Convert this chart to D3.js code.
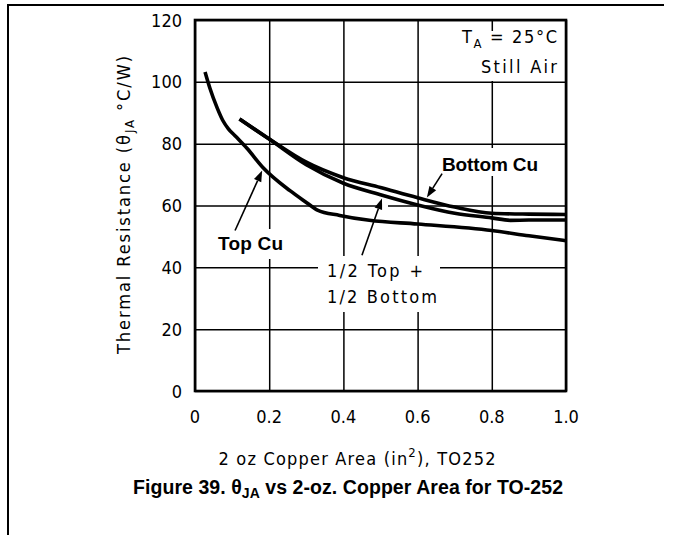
<!DOCTYPE html>
<html><head><meta charset="utf-8">
<script src="https://cdn.jsdelivr.net/npm/d3@7"></script>
<style>body{margin:0;background:#fff}</style>
</head><body><svg id="c" width="673" height="535"></svg>
<script>
// ---- data ----
const xTicks = [0, 0.2, 0.4, 0.6, 0.8, 1.0];
const xTickLabels = ["0", "0.2", "0.4", "0.6", "0.8", "1.0"];
const yTicks = [0, 20, 40, 60, 80, 100, 120];
const yTickLabels = ["0", "20", "40", "60", "80", "100", "120"];

const topCuX = [0.027, 0.04, 0.06, 0.075, 0.09, 0.11, 0.14, 0.183, 0.256, 0.30, 0.33, 0.39, 0.47, 0.60, 0.80, 0.90, 1.0];
const topCuY = [103.2, 98, 91.5, 87.5, 84.8, 82.3, 78.5, 72.3, 64.8, 61, 58.5, 56.8, 55.2, 54, 51.9, 50.2, 48.6];

const bottomCuX = [0.12, 0.2, 0.3, 0.4, 0.5, 0.6, 0.7, 0.8, 0.9, 1.0];
const bottomCuY = [88, 81.5, 74, 69, 65.8, 62.5, 59.5, 57.5, 57.2, 57.1];

const halfX = [0.12, 0.2, 0.3, 0.4, 0.5, 0.6, 0.7, 0.8, 0.85, 0.9, 1.0];
const halfY = [88, 81.5, 73.2, 67.2, 63.5, 60.2, 57.5, 56, 55.2, 55.3, 55.3];

// annotation arrows: [tailX, tailY, tipX, tipY] in data units
const arrowTopCu = [0.108, 51.9, 0.181, 71.3];
const arrowHalf = [0.45, 43.9, 0.504, 62.3];
const arrowBottom = [0.666, 70.3, 0.625, 62.6];

// ---- layout ----
const svg = d3.select("#c");
const L = 195, R = 566, T = 20, B = 391;
const x = d3.scaleLinear().domain([0, 1]).range([L, R]);
const y = d3.scaleLinear().domain([0, 120]).range([B, T]);
const thin = "'DejaVu Sans Condensed','DejaVu Sans',sans-serif";
const bold = "'Liberation Sans',Arial,sans-serif";

// page frame
svg.append("path").attr("d", "M8,535V5H664").attr("fill", "none").attr("stroke", "#000").attr("stroke-width", 2);

// gridlines
const grid = svg.append("g");
grid.append("g").attr("transform", `translate(0,${B})`)
  .call(d3.axisBottom(x).tickValues(xTicks).tickSize(-(B - T)).tickFormat(""))
  .call(g => g.select(".domain").remove())
  .call(g => g.selectAll("line").attr("stroke", "#000").attr("stroke-width", 1.5));
grid.append("g").attr("transform", `translate(${L},0)`)
  .call(d3.axisLeft(y).tickValues(yTicks).tickSize(-(R - L)).tickFormat(""))
  .call(g => g.select(".domain").remove())
  .call(g => g.selectAll("line").attr("stroke", "#000").attr("stroke-width", 1.5));

// masks behind labels (hide gridlines)
const masks = [
  [455, 31, 103, 50],   // T_A / Still Air
  [214, 229, 72, 30],   // Top Cu
  [318, 256, 122, 56],  // 1/2 Top + 1/2 Bottom
  [438, 148, 104, 28],  // Bottom Cu
  [378, 203, 10, 5]     // gap near arrow
];
svg.append("g").selectAll("rect").data(masks).join("rect")
  .attr("x", d => d[0]).attr("y", d => d[1]).attr("width", d => d[2]).attr("height", d => d[3])
  .attr("fill", "#fff");

// curves
const line = d3.line().x(d => x(d[0])).y(d => y(d[1])).curve(d3.curveMonotoneX);
const series = [
  d3.zip(topCuX, topCuY),
  d3.zip(bottomCuX, bottomCuY),
  d3.zip(halfX, halfY)
];
svg.append("g").selectAll("path").data(series).join("path")
  .attr("d", line).attr("fill", "none").attr("stroke", "#000")
  .attr("stroke-width", 3.6).attr("stroke-linejoin", "round").attr("stroke-linecap", "butt");

// arrows
function arrow(a) {
  const x0 = x(a[0]), y0 = y(a[1]), x1 = x(a[2]), y1 = y(a[3]);
  const ang = Math.atan2(y1 - y0, x1 - x0);
  const len = 11, wid = 4;
  const bx = x1 - len * Math.cos(ang), by = y1 - len * Math.sin(ang);
  svg.append("line").attr("x1", x0).attr("y1", y0).attr("x2", bx).attr("y2", by)
    .attr("stroke", "#000").attr("stroke-width", 1.6);
  const px = -Math.sin(ang) * wid, py = Math.cos(ang) * wid;
  svg.append("path")
    .attr("d", `M${x1},${y1}L${bx + px},${by + py}L${bx - px},${by - py}Z`)
    .attr("fill", "#000");
}
[arrowTopCu, arrowHalf, arrowBottom].forEach(arrow);

// plot border
svg.append("rect").attr("x", L).attr("y", T).attr("width", R - L).attr("height", B - T)
  .attr("fill", "none").attr("stroke", "#000").attr("stroke-width", 2.6);

// tick labels
svg.append("g").selectAll("text").data(xTicks).join("text")
  .attr("x", d => x(d)).attr("y", 423).attr("text-anchor", "middle")
  .attr("font-family", thin).attr("font-size", 18).attr("fill", "#000")
  .text((d, i) => xTickLabels[i]);
svg.append("g").selectAll("text").data(yTicks).join("text")
  .attr("x", 182).attr("y", d => y(d) + 6.5).attr("text-anchor", "end")
  .attr("font-family", thin).attr("font-size", 18).attr("fill", "#000")
  .text((d, i) => yTickLabels[i]);

// y axis title
const yt = svg.append("text").attr("transform", "translate(130,205) rotate(-90)")
  .attr("text-anchor", "middle").attr("font-family", thin).attr("font-size", 18).attr("fill", "#000")
  .attr("textLength", 298).attr("lengthAdjust", "spacing");
yt.append("tspan").text("Thermal Resistance (θ");
yt.append("tspan").attr("font-size", 13).attr("dy", 4).text("JA");
yt.append("tspan").attr("dy", -4).text(" °C/W)");

// x axis title
const xt = svg.append("text").attr("x", 357).attr("y", 465).attr("text-anchor", "middle")
  .attr("font-family", thin).attr("font-size", 18).attr("fill", "#000")
  .attr("textLength", 277).attr("lengthAdjust", "spacing");
xt.append("tspan").text("2 oz Copper Area (in");
xt.append("tspan").attr("font-size", 13).attr("dy", -8).text("2");
xt.append("tspan").attr("dy", 8).text("), TO252");

// caption
const cap = svg.append("text").attr("x", 348).attr("y", 494).attr("text-anchor", "middle")
  .attr("font-family", bold).attr("font-weight", "bold").attr("font-size", 19.5).attr("fill", "#000")
  .attr("textLength", 430).attr("lengthAdjust", "spacing");
cap.append("tspan").text("Figure 39. θ");
cap.append("tspan").attr("font-size", 14).attr("dy", 4).text("JA");
cap.append("tspan").attr("dy", -4).text(" vs 2-oz. Copper Area for TO-252");

// conditions
const ta = svg.append("text").attr("x", 557).attr("y", 43).attr("text-anchor", "end")
  .attr("font-family", thin).attr("font-size", 18).attr("fill", "#000")
  .attr("textLength", 95).attr("lengthAdjust", "spacing");
ta.append("tspan").text("T");
ta.append("tspan").attr("font-size", 13).attr("dy", 5).text("A");
ta.append("tspan").attr("dy", -5).text(" = 25°C");
svg.append("text").attr("x", 557).attr("y", 73).attr("text-anchor", "end")
  .attr("font-family", thin).attr("font-size", 18).attr("fill", "#000")
  .attr("textLength", 76).attr("lengthAdjust", "spacing").text("Still Air");

// series labels
svg.append("text").attr("x", 218).attr("y", 250).attr("font-family", bold).attr("font-weight", "bold")
  .attr("font-size", 19).attr("fill", "#000").attr("textLength", 65).attr("lengthAdjust", "spacing").text("Top Cu");
svg.append("text").attr("x", 442).attr("y", 171).attr("font-family", bold).attr("font-weight", "bold")
  .attr("font-size", 19).attr("fill", "#000").attr("textLength", 96).attr("lengthAdjust", "spacing").text("Bottom Cu");
svg.append("text").attr("x", 327).attr("y", 277).attr("font-family", thin).attr("font-size", 18)
  .attr("fill", "#000").attr("textLength", 96).attr("lengthAdjust", "spacing").text("1/2 Top +");
svg.append("text").attr("x", 327).attr("y", 303).attr("font-family", thin).attr("font-size", 18)
  .attr("fill", "#000").attr("textLength", 110).attr("lengthAdjust", "spacing").text("1/2 Bottom");
</script></body></html>
